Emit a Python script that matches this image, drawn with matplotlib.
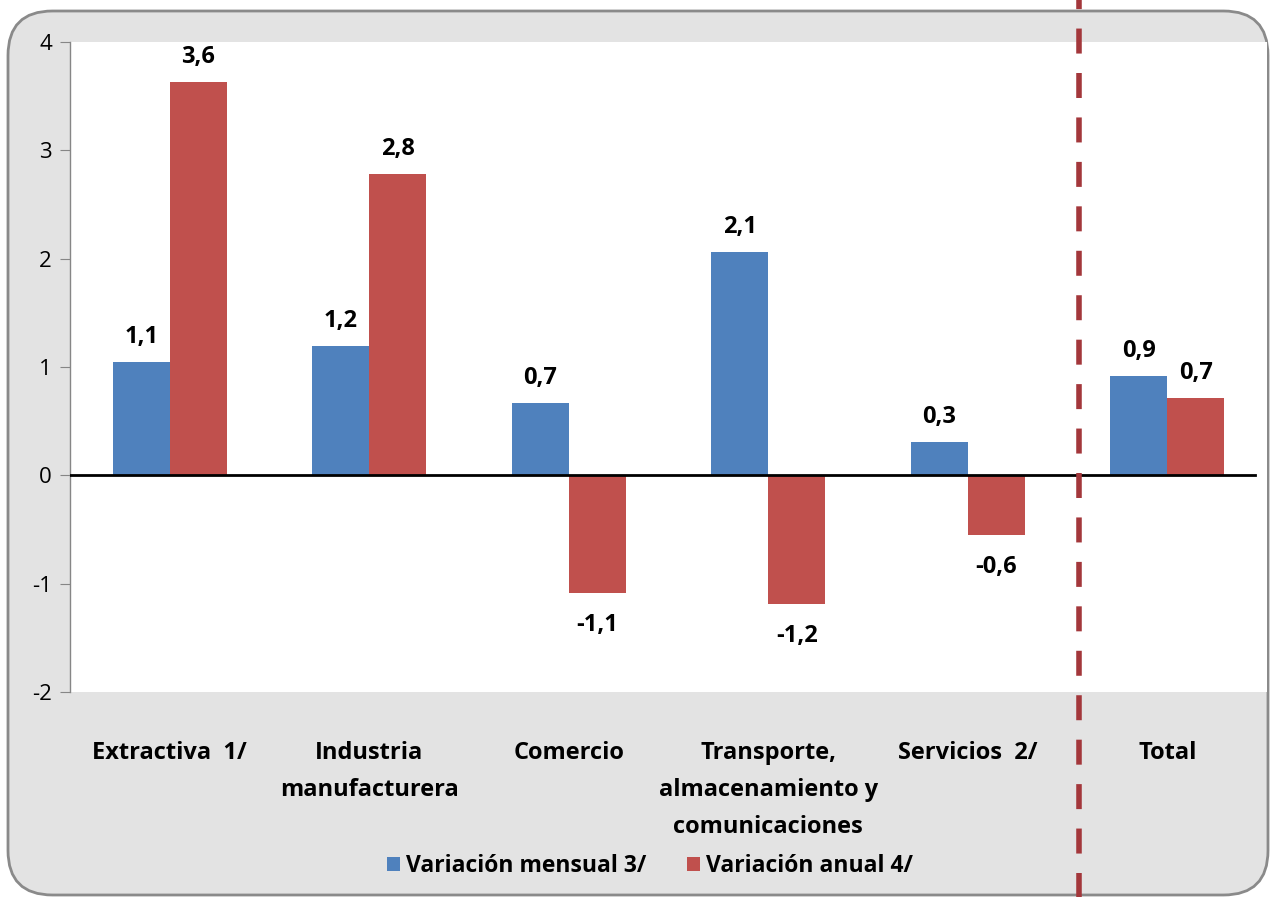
import numpy as np
import matplotlib.pyplot as plt
from matplotlib.patches import FancyBboxPatch

plt.rcParams['font.family'] = ['Open Sans', 'DejaVu Sans']
plt.rcParams['axes.unicode_minus'] = False

# data
categories = ['Extractiva  1/', 'Industria\nmanufacturera', 'Comercio',
              'Transporte,\nalmacenamiento y\ncomunicaciones',
              'Servicios  2/', 'Total']
mensual = [1.05, 1.19, 0.67, 2.06, 0.31, 0.92]
anual = [3.63, 2.78, -1.09, -1.19, -0.55, 0.71]
mensual_lbl = ['1,1', '1,2', '0,7', '2,1', '0,3', '0,9']
anual_lbl = ['3,6', '2,8', '-1,1', '-1,2', '-0,6', '0,7']
separator_x = 4.56

blue = '#4F81BD'
red = '#C0504D'

fig = plt.figure(figsize=(12.72, 8.97), dpi=100, facecolor='white')

# rounded grey frame behind everything
frame = FancyBboxPatch((8/1272, 2/897), 1260/1272, 884/897,
                       boxstyle='round,pad=0,rounding_size=0.035',
                       transform=fig.transFigure, facecolor='#e3e3e3',
                       edgecolor='#8a8a8a', linewidth=2, zorder=-10,
                       mutation_aspect=1272/897)
fig.patches.append(frame)

ax = fig.add_axes([70/1272, 1 - 692/897, 1197/1272, 650/897])
ax.set_facecolor('white')

x = np.arange(len(categories))
w = 0.285
ax.bar(x - w/2, mensual, w, color=blue, label='Variación mensual 3/', zorder=2)
ax.bar(x + w/2, anual, w, color=red, label='Variación anual 4/', zorder=2)

# value labels
for xi, v, s in zip(x - w/2, mensual, mensual_lbl):
    off = 25 if v >= 0 else -32
    ax.annotate(s, (xi, v), xytext=(0, off), textcoords='offset pixels',
                ha='center', va='center', fontsize=17, fontweight='bold')
for xi, v, s in zip(x + w/2, anual, anual_lbl):
    off = 25 if v >= 0 else -32
    ax.annotate(s, (xi, v), xytext=(0, off), textcoords='offset pixels',
                ha='center', va='center', fontsize=17, fontweight='bold')

ax.axhline(0, xmin=0, xmax=0.99, color='black', lw=2, zorder=3)

# dashed separator crossing the whole figure
ax.axvline(separator_x, ymin=-0.33, ymax=1.08, color='#A3373B', lw=4,
           ls=(0, (4.5, 3.5)), clip_on=False, zorder=5)

ax.set_xlim(-0.5, 5.5)
ax.set_ylim(-2, 4)
ax.set_yticks(range(-2, 5))
ax.set_xticks(x)
ax.set_xticklabels(categories, fontsize=17, fontweight='bold',
                   linespacing=1.72, va='top')
ax.tick_params(axis='x', length=0, pad=35)
ax.tick_params(axis='y', direction='out', length=7, color='#868686',
               labelsize=16, pad=6)

for side in ['top', 'right', 'bottom']:
    ax.spines[side].set_visible(False)
ax.spines['left'].set_color('#868686')
ax.spines['left'].set_linewidth(1)

fig.legend(loc='center', bbox_to_anchor=(650/1272, 1 - 866/897), ncol=2,
           frameon=False, handlelength=0.55, handleheight=0.55,
           handletextpad=0.25, columnspacing=1.8,
           prop={'size': 16.5, 'weight': 'bold'})

plt.savefig('out.png', dpi=100, facecolor=fig.get_facecolor())
